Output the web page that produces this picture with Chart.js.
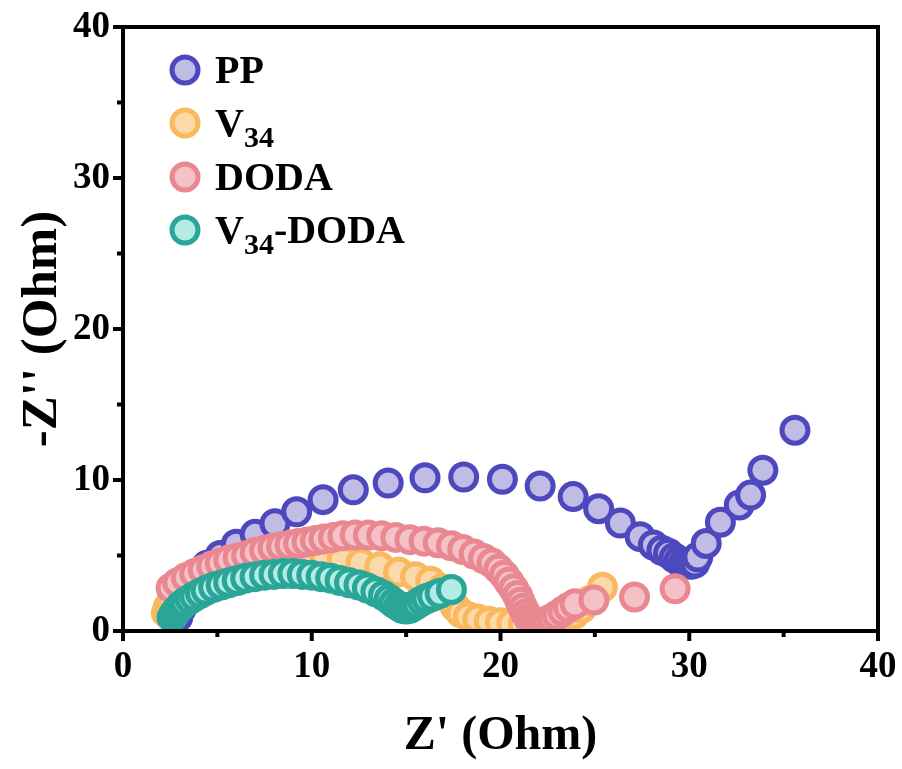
<!DOCTYPE html>
<html>
<head>
<meta charset="utf-8">
<script src="https://cdn.jsdelivr.net/npm/chart.js@4.4.1/dist/chart.umd.min.js"></script>
<style>
html,body{margin:0;padding:0;background:#fff;}
#wrap{width:902px;height:769px;}
</style>
</head>
<body>
<div id="wrap"><canvas id="c" width="902" height="769"></canvas></div>
<script>
// ---- data (Z' , -Z'') ----
const seriesNames = ["PP", "V34", "DODA", "V34-DODA"];

const ppX = [2.9,3.1,3.4,3.7,4.1,4.45,5.15,6.0,7.0,8.05,9.2,10.6,12.2,14.05,16.0,18.05,20.1,22.1,23.85,25.2,26.35,27.4,28.1,28.55,28.9,29.2,29.45,29.7,29.9,30.1,30.3,30.45,30.9,31.65,32.65,33.25,33.9,35.6];
const ppY = [0.9,1.5,2.2,2.8,3.6,4.35,5.0,5.75,6.4,7.1,7.9,8.7,9.35,9.8,10.15,10.2,10.05,9.6,8.9,8.1,7.15,6.25,5.7,5.35,5.15,4.85,4.65,4.5,4.45,4.42,4.5,4.9,5.8,7.2,8.35,9.0,10.65,13.3];

const v34X = [2.3,2.4,2.6,2.9,3.3,3.8,4.4,5.1,5.9,6.8,7.8,8.8,9.8,10.7,11.6,12.6,13.6,14.6,15.5,16.3,16.9,17.3,17.6,17.9,18.3,18.8,19.4,20.0,20.6,21.2,21.8,22.4,22.9,23.4,23.9,24.3,24.7,25.4];
const v34Y = [1.2,1.6,2.0,2.4,2.8,3.15,3.5,3.8,4.1,4.35,4.55,4.7,4.8,4.8,4.7,4.5,4.25,3.9,3.6,3.3,2.8,2.2,1.6,1.2,0.95,0.8,0.65,0.55,0.5,0.45,0.45,0.5,0.65,0.85,1.1,1.5,2.0,2.9];

const dodaX = [2.55,2.9,3.35,3.8,4.25,4.7,5.15,5.6,6.1,6.55,7.0,7.5,7.95,8.4,8.85,9.3,9.75,10.2,10.65,11.15,11.65,12.3,13.0,13.7,14.45,15.2,15.95,16.7,17.4,18.0,18.6,19.1,19.55,19.9,20.2,20.45,20.7,20.9,21.05,21.2,21.35,21.5,21.65,21.8,21.95,22.1,22.3,22.5,22.75,23.0,23.3,23.6,23.95,24.95,27.1,29.25];
const dodaY = [2.85,3.2,3.55,3.8,4.05,4.3,4.5,4.7,4.85,5.0,5.2,5.35,5.5,5.6,5.7,5.8,5.9,6.0,6.1,6.2,6.3,6.35,6.35,6.3,6.2,6.05,5.95,5.85,5.65,5.4,5.1,4.8,4.5,4.1,3.7,3.25,2.8,2.35,1.9,1.5,1.15,0.85,0.6,0.45,0.4,0.45,0.55,0.7,0.85,1.05,1.3,1.55,1.8,2.05,2.25,2.8];

const vdX = [2.6,2.7,2.8,2.95,3.1,3.3,3.55,3.8,4.1,4.4,4.8,5.2,5.6,6.05,6.5,7.0,7.5,8.0,8.5,9.0,9.5,10.0,10.5,11.0,11.5,12.0,12.5,12.95,13.4,13.8,14.1,14.35,14.6,14.8,15.0,15.2,15.4,15.6,15.85,16.1,16.4,16.8,17.4];
const vdY = [0.9,1.1,1.3,1.5,1.7,1.9,2.1,2.3,2.5,2.7,2.9,3.05,3.2,3.35,3.5,3.6,3.7,3.75,3.8,3.8,3.75,3.7,3.6,3.5,3.35,3.2,3.05,2.85,2.6,2.35,2.1,1.85,1.65,1.5,1.45,1.5,1.65,1.8,2.0,2.15,2.3,2.5,2.75];

const xTicks = [0,10,20,30,40];
const yTicks = [0,10,20,30,40];

// ---- styles ----
const borderCols = ["#4D48BE", "#F9B95C", "#EA8891", "#2AA699"];
const fillCols   = ["#C0BCE6", "#FCD9A8", "#F4C1C6", "#B4EBE5"];
const FONT = "'Liberation Serif','Times New Roman',serif";

function pts(xs, ys){ return xs.map((x,i)=>({x:x, y:ys[i]})); }
const allData = [pts(ppX,ppY), pts(v34X,v34Y), pts(dodaX,dodaY), pts(vdX,vdY)];

const datasets = allData.map((d,i)=>({
  label: seriesNames[i],
  data: d,
  showLine: false,
  pointRadius: 13,
  pointHoverRadius: 13,
  pointBorderWidth: 5,
  pointBorderColor: borderCols[i],
  pointBackgroundColor: fillCols[i],
  borderColor: borderCols[i],
  backgroundColor: fillCols[i],
  clip: 0,
  order: 4 - i
}));

const framePlugin = {
  id: 'frame',
  afterDatasetsDraw(chart){
    const ctx = chart.ctx, a = chart.chartArea;
    const xs = chart.scales.x, ys = chart.scales.y;
    ctx.save();
    ctx.strokeStyle = '#000';
    ctx.lineWidth = 4;
    ctx.lineJoin = 'miter';
    ctx.strokeRect(a.left, a.top, a.right - a.left, a.bottom - a.top);
    ctx.lineCap = 'butt';
    for (let v = 0; v <= 40; v += 5) {
      const major = (v % 10 === 0);
      const len = major ? 10 : 6;
      const px = xs.getPixelForValue(v);
      ctx.beginPath(); ctx.moveTo(px, a.bottom); ctx.lineTo(px, a.bottom + len); ctx.stroke();
      const py = ys.getPixelForValue(v);
      ctx.beginPath(); ctx.moveTo(a.left, py); ctx.lineTo(a.left - len, py); ctx.stroke();
    }
    ctx.restore();
  },
  afterDraw(chart){
    // legend
    const ctx = chart.ctx;
    const rows = [70, 123, 177, 230];
    const mx = 185, tx = 215;
    ctx.save();
    rows.forEach((ry, i) => {
      ctx.beginPath();
      ctx.arc(mx, ry, 13, 0, Math.PI*2);
      ctx.fillStyle = fillCols[i];
      ctx.fill();
      ctx.lineWidth = 5;
      ctx.strokeStyle = borderCols[i];
      ctx.stroke();
      ctx.fillStyle = '#000';
      ctx.textBaseline = 'alphabetic';
      ctx.textAlign = 'left';
      const base = ry + 13;
      const name = seriesNames[i];
      const big = "bold 40px " + FONT, small = "bold 30px " + FONT;
      if (name.startsWith("V34")) {
        let x = tx;
        ctx.font = big; ctx.fillText("V", x, base); x += ctx.measureText("V").width;
        ctx.font = small; ctx.fillText("34", x, base + 11); x += ctx.measureText("34").width;
        const rest = name.slice(3);
        if (rest) { ctx.font = big; ctx.fillText(rest, x, base); }
      } else {
        ctx.font = big; ctx.fillText(name, tx, base);
      }
    });
    ctx.restore();
  }
};

function zeroPad(s){ s.paddingLeft = 0; s.paddingRight = 0; s.paddingTop = 0; s.paddingBottom = 0; }

new Chart(document.getElementById('c'), {
  type: 'scatter',
  data: { datasets: datasets },
  options: {
    responsive: false,
    animation: false,
    devicePixelRatio: 1,
    layout: { padding: { top: 27, right: 24, bottom: 0, left: 0 } },
    plugins: { legend: { display: false }, tooltip: { enabled: false } },
    scales: {
      x: {
        type: 'linear', min: 0, max: 40,
        afterFit(s){ s.height = 138; zeroPad(s); },
        afterBuildTicks(s){ s.ticks = xTicks.map(v=>({value:v})); },
        grid: { display: false, drawTicks: false },
        border: { display: false },
        ticks: { color: '#000', padding: 14, font: { family: FONT, size: 37, weight: 'bold' } },
        title: { display: true, text: "Z' (Ohm)", color: '#000', padding: { top: 4, bottom: 4 }, font: { family: FONT, size: 48, weight: 'bold' } }
      },
      y: {
        type: 'linear', min: 0, max: 40,
        afterFit(s){ s.width = 123; zeroPad(s); },
        afterBuildTicks(s){ s.ticks = yTicks.map(v=>({value:v})); },
        grid: { display: false, drawTicks: false },
        border: { display: false },
        ticks: { color: '#000', padding: 13, font: { family: FONT, size: 37, weight: 'bold' } },
        title: { display: true, text: "-Z'' (Ohm)", color: '#000', padding: { top: 12, bottom: 0 }, font: { family: FONT, size: 51, weight: 'bold' } }
      }
    }
  },
  plugins: [framePlugin]
});
</script>
</body>
</html>
